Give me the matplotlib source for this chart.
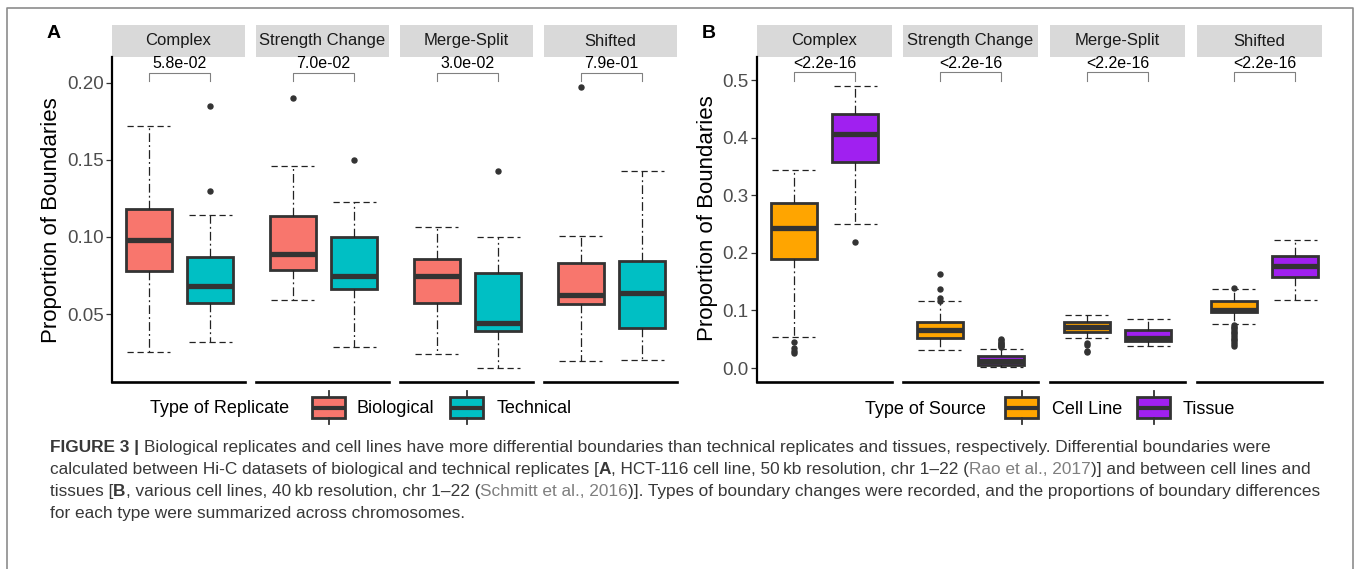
import numpy as np
import matplotlib.pyplot as plt
from matplotlib.patches import Rectangle

plt.rcParams['font.family'] = ['Liberation Sans', 'DejaVu Sans']

W, H = 1358, 569
facets = ['Complex', 'Strength Change', 'Merge-Split', 'Shifted']

# ---------------- panel A : biological vs technical replicates ----------------
a_groups = ['Biological', 'Technical']
a_colors = ['#F8766D', '#00BFC4']
a_lo = [[0.0254, 0.0593, 0.0243, 0.0198], [0.0317, 0.0286, 0.0150, 0.0202]]
a_q1 = [[0.0780, 0.0785, 0.0571, 0.0565], [0.0570, 0.0660, 0.0392, 0.0409]]
a_med = [[0.0978, 0.0889, 0.0744, 0.0625], [0.0684, 0.0744, 0.0442, 0.0638]]
a_q3 = [[0.1180, 0.1135, 0.0854, 0.0830], [0.0867, 0.0997, 0.0768, 0.0843]]
a_hi = [[0.1720, 0.1460, 0.1066, 0.1007], [0.1140, 0.1224, 0.0997, 0.1429]]
a_fliers = [[[], [0.190], [], [0.197]],
            [[0.185, 0.130], [0.150], [0.143], []]]
a_pvals = ['5.8e-02', '7.0e-02', '3.0e-02', '7.9e-01']
a_bracket = (0.2011, 0.2066)
a_ylim = (0.0059, 0.2167)
a_yticks = [0.05, 0.10, 0.15, 0.20]
a_yticklabels = ['0.05', '0.10', '0.15', '0.20']

# ---------------- panel B : cell lines vs tissues ----------------
b_groups = ['Cell Line', 'Tissue']
b_colors = ['#FFA500', '#A020F0']
b_lo = [[0.0546, 0.0310, 0.0529, 0.0770], [0.2500, 0.0014, 0.0378, 0.1175]]
b_q1 = [[0.1900, 0.0517, 0.0633, 0.0967], [0.3573, 0.0055, 0.0470, 0.1586]]
b_med = [[0.2423, 0.0660, 0.0714, 0.1008], [0.4064, 0.0130, 0.0515, 0.1765]]
b_q3 = [[0.2868, 0.0806, 0.0794, 0.1158], [0.4410, 0.0205, 0.0655, 0.1938]]
b_hi = [[0.3446, 0.1158, 0.0915, 0.1370], [0.4890, 0.0338, 0.0846, 0.2215]]
b_fliers = [[[0.046, 0.035, 0.029, 0.026],
             [0.163, 0.137, 0.121, 0.117],
             [0.044, 0.040, 0.030, 0.027],
             [0.139, 0.075, 0.072, 0.069, 0.066, 0.063, 0.060, 0.057, 0.054,
              0.051, 0.048, 0.045, 0.042, 0.039]],
            [[0.219],
             [0.036, 0.038, 0.040, 0.042, 0.044, 0.046, 0.048, 0.050],
             [],
             []]]
b_pvals = ['<2.2e-16', '<2.2e-16', '<2.2e-16', '<2.2e-16']
b_bracket = (0.4988, 0.5133)
b_ylim = (-0.0243, 0.540)
b_yticks = [0.0, 0.1, 0.2, 0.3, 0.4, 0.5]
b_yticklabels = ['0.0', '0.1', '0.2', '0.3', '0.4', '0.5']

EDGE = '#333333'

fig = plt.figure(figsize=(W / 100, H / 100), dpi=100)

# overlay in pixel coordinates for frame, labels, legends and caption
ov = fig.add_axes([0, 0, 1, 1])
ov.set_xlim(0, W)
ov.set_ylim(H, 0)
ov.axis('off')


def px_axes(x0, x1, y0, y1):
    return fig.add_axes([x0 / W, 1 - y1 / H, (x1 - x0) / W, (y1 - y0) / H])


def draw_panel(lefts, widths, colors, lo, q1, med, q3, hi, fliers, pvals,
               bracket, ylim, yticks, yticklabels, top=57, bottom=382):
    unit = 135 / 2.2
    for i, name in enumerate(facets):
        ax = px_axes(lefts[i], lefts[i] + widths[i], top, bottom)
        stats = []
        for g in range(2):
            stats.append(dict(med=med[g][i], q1=q1[g][i], q3=q3[g][i],
                              whislo=lo[g][i], whishi=hi[g][i],
                              fliers=fliers[g][i]))
        bp = ax.bxp(stats, positions=[1, 2], widths=0.75, capwidths=0.7,
                    patch_artist=True,
                    boxprops=dict(edgecolor=EDGE, linewidth=2.0),
                    medianprops=dict(color=EDGE, linewidth=3.8, solid_capstyle='butt'),
                    whiskerprops=dict(color='#222222', linewidth=0.9,
                                      linestyle=(0, (7, 2.5, 1.5, 2.5))),
                    capprops=dict(color='#222222', linewidth=0.9,
                                  linestyle=(0, (5, 3))),
                    flierprops=dict(marker='o', markersize=3.6,
                                    markerfacecolor=EDGE, markeredgecolor=EDGE))
        for patch, c in zip(bp['boxes'], colors):
            patch.set_facecolor(c)
        # bracket and p-value
        b0, b1 = bracket
        ax.plot([1, 1, 2, 2], [b0, b1, b1, b0], color='#808080', lw=0.8)
        ax.text(1.5, b1 + (b1 - b0) * 0.15, pvals[i], ha='center', va='bottom',
                fontsize=11.5, color='black')
        ax.set_xlim(0.4, 0.4 + widths[i] / unit)
        ax.set_ylim(*ylim)
        ax.set_xticks([])
        for s in ['top', 'right']:
            ax.spines[s].set_visible(False)
        ax.spines['bottom'].set_linewidth(1.9)
        ax.spines['bottom'].set_color('black')
        if i == 0:
            ax.spines['left'].set_linewidth(1.6)
            ax.spines['left'].set_color('black')
            ax.set_yticks(yticks)
            ax.set_yticklabels(yticklabels)
            ax.tick_params(axis='y', length=4, width=0.9, color=EDGE,
                           labelcolor='#4D4D4D', labelsize=13.5, pad=2)
        else:
            ax.spines['left'].set_visible(False)
            ax.tick_params(axis='y', left=False, labelleft=False)
        ax.patch.set_alpha(0)
        # strip
        ax.add_patch(Rectangle((0, 1), 1, 32 / (bottom - top), transform=ax.transAxes,
                               clip_on=False, facecolor='#D9D9D9', edgecolor='none'))
        ax.text(0.5, 1 + 16 / (bottom - top), name, transform=ax.transAxes,
                ha='center', va='center', fontsize=12, color='#1A1A1A')


draw_panel([112, 256, 400, 544], [133, 133, 133, 133], a_colors,
           a_lo, a_q1, a_med, a_q3, a_hi, a_fliers, a_pvals,
           a_bracket, a_ylim, a_yticks, a_yticklabels)
draw_panel([757, 903, 1050, 1197], [135, 135, 135, 125], b_colors,
           b_lo, b_q1, b_med, b_q3, b_hi, b_fliers, b_pvals,
           b_bracket, b_ylim, b_yticks, b_yticklabels)

# frame
ov.plot([7, 7, 1353, 1353], [575, 8, 8, 575], color='#8C8C8C', lw=1.2, clip_on=False)

# panel letters and y labels
ov.text(54, 33, 'A', fontsize=14, fontweight='bold', ha='center', va='center')
ov.text(709, 33, 'B', fontsize=14, fontweight='bold', ha='center', va='center')
ov.text(52, 220, 'Proportion of Boundaries', rotation=90, fontsize=16,
        ha='center', va='center')
ov.text(708, 218, 'Proportion of Boundaries', rotation=90, fontsize=16,
        ha='center', va='center')


def legend_key(x, color):
    ov.plot([x + 16.5, x + 16.5], [390.5, 397], color=EDGE, lw=1.3)
    ov.plot([x + 16.5, x + 16.5], [418, 424], color=EDGE, lw=1.3)
    ov.add_patch(Rectangle((x, 397), 33, 21, facecolor=color, edgecolor=EDGE, lw=2.0))
    ov.plot([x, x + 33], [407.5, 407.5], color=EDGE, lw=3.0, solid_capstyle='butt')


ov.text(150, 408, 'Type of Replicate', fontsize=13, ha='left', va='center')
legend_key(312, a_colors[0])
ov.text(357, 408, a_groups[0], fontsize=13, ha='left', va='center')
legend_key(450, a_colors[1])
ov.text(497, 408, a_groups[1], fontsize=13, ha='left', va='center')

ov.text(865, 409, 'Type of Source', fontsize=13, ha='left', va='center')
legend_key(1005, b_colors[0])
ov.text(1052, 409, b_groups[0], fontsize=13, ha='left', va='center')
legend_key(1137, b_colors[1])
ov.text(1183, 409, b_groups[1], fontsize=13, ha='left', va='center')

# caption, written piece by piece
N, B_, G = 'n', 'b', 'g'
caption = [
    [('FIGURE 3 | ', B_),
     ('Biological replicates and cell lines have more differential boundaries than technical '
      'replicates and tissues, respectively. Differential boundaries were', N)],
    [('calculated between Hi-C datasets of biological and technical replicates [', N),
     ('A', B_), (', HCT-116 cell line, 50\u2009kb resolution, chr 1\u201322 (', N),
     ('Rao et al., 2017', G), (')] and between cell lines and', N)],
    [('tissues [', N), ('B', B_),
     (', various cell lines, 40\u2009kb resolution, chr 1\u201322 (', N),
     ('Schmitt et al., 2016', G),
     (')]. Types of boundary changes were recorded, and the proportions of boundary differences', N)],
    [('for each type were summarized across chromosomes.', N)],
]
renderer = fig.canvas.get_renderer()
for k, line in enumerate(caption):
    x = 50
    y = 452 + 22 * k
    for txt, style in line:
        t = ov.text(x, y, txt, fontsize=12.4, ha='left', va='baseline',
                    fontweight='bold' if style == B_ else 'normal',
                    color='#7F7F7F' if style == G else '#383838')
        x += t.get_window_extent(renderer).width

fig.savefig('out.png', dpi=100)
